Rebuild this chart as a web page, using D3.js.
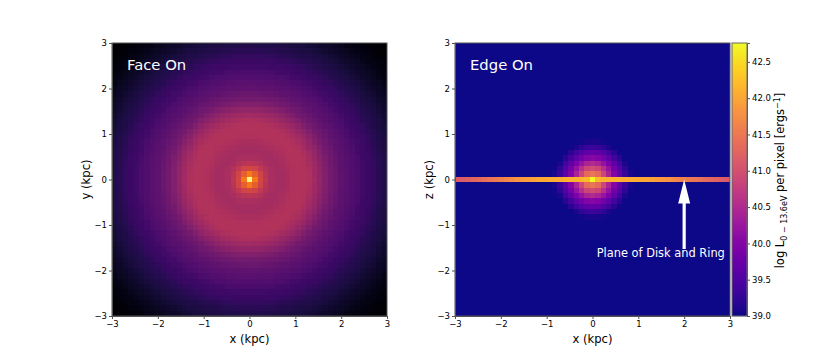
<!DOCTYPE html>
<html>
<head>
<meta charset="utf-8">
<script src="https://cdn.jsdelivr.net/npm/d3@7"></script>
<style>
    body { margin: 0; background: #fff; }
    text { font-family: "DejaVu Sans", sans-serif; }
    .tick text { font-size: 8.5px; fill: #000; }
    .tick line, .domain { stroke: #555; }
</style>
</head>
<body>
<div id="chart"></div>
<script>
// tick values and panel text
let axisTicks = [-3, -2, -1, 0, 1, 2, 3];
let colorbarTicks = [39.0, 39.5, 40.0, 40.5, 41.0, 41.5, 42.0, 42.5];
let colorbarRange = [39.0, 42.76];
let faceOnRange = [38.0, 43.0];
let panelNames = ["Face On", "Edge On"];
let yLabels = ["y (kpc)", "z (kpc)"];

// log L per pixel. The grid is 51 x 51 and symmetric, so only one
// octant is kept: row = larger of |col|,|row| from the center, entry = smaller of the two
let faceOnLogL = [
    [42.85],
    [41.55, 41.2],
    [40.85, 40.78, 40.55],
    [40.5, 40.48, 40.38, 40.28],
    [40.3, 40.29, 40.25, 40.22, 40.2],
    [40.22, 40.22, 40.2, 40.2, 40.24, 40.3],
    [40.2, 40.2, 40.23, 40.27, 40.3, 40.33, 40.36],
    [40.28, 40.28, 40.3, 40.32, 40.35, 40.37, 40.38, 40.38],
    [40.35, 40.35, 40.36, 40.37, 40.38, 40.38, 40.38, 40.34, 40.27],
    [40.38, 40.38, 40.38, 40.38, 40.38, 40.37, 40.33, 40.25, 40.16, 40.05],
    [40.38, 40.38, 40.37, 40.36, 40.33, 40.29, 40.22, 40.13, 40.04, 39.92, 39.77],
    [40.32, 40.31, 40.29, 40.25, 40.2, 40.15, 40.07, 39.99, 39.88, 39.76, 39.63, 39.54],
    [40.17, 40.16, 40.14, 40.11, 40.06, 40.0, 39.92, 39.83, 39.72, 39.6, 39.54, 39.46, 39.35],
    [40.0, 39.99, 39.96, 39.93, 39.88, 39.82, 39.74, 39.65, 39.57, 39.52, 39.44, 39.35, 39.3, 39.25],
    [39.8, 39.79, 39.77, 39.74, 39.69, 39.63, 39.57, 39.53, 39.48, 39.41, 39.34, 39.29, 39.25, 39.19, 39.14],
    [39.6, 39.6, 39.59, 39.57, 39.55, 39.52, 39.47, 39.42, 39.35, 39.31, 39.28, 39.23, 39.18, 39.14, 39.05, 39.0],
    [39.5, 39.5, 39.48, 39.46, 39.43, 39.39, 39.34, 39.31, 39.29, 39.25, 39.21, 39.17, 39.13, 39.03, 38.98, 38.93, 38.88],
    [39.35, 39.35, 39.34, 39.33, 39.31, 39.3, 39.28, 39.25, 39.22, 39.18, 39.15, 39.11, 39.02, 38.97, 38.93, 38.88, 38.82, 38.74],
    [39.28, 39.28, 39.27, 39.26, 39.25, 39.23, 39.2, 39.18, 39.15, 39.12, 39.04, 38.99, 38.95, 38.92, 38.87, 38.82, 38.74, 38.68, 38.63],
    [39.2, 39.2, 39.19, 39.18, 39.17, 39.15, 39.14, 39.11, 39.03, 39.0, 38.97, 38.93, 38.9, 38.85, 38.78, 38.72, 38.67, 38.62, 38.57, 38.51],
    [39.13, 39.13, 39.12, 39.11, 39.1, 39.03, 39.01, 38.99, 38.96, 38.93, 38.9, 38.86, 38.82, 38.75, 38.7, 38.65, 38.61, 38.56, 38.51, 38.46, 38.41],
    [39.0, 39.0, 38.99, 38.99, 38.97, 38.96, 38.94, 38.92, 38.9, 38.86, 38.83, 38.76, 38.71, 38.67, 38.63, 38.59, 38.55, 38.5, 38.45, 38.41, 38.35, 38.3],
    [38.93, 38.93, 38.92, 38.92, 38.9, 38.89, 38.87, 38.84, 38.82, 38.76, 38.72, 38.68, 38.65, 38.61, 38.57, 38.53, 38.49, 38.44, 38.4, 38.35, 38.3, 38.25, 38.19],
    [38.85, 38.85, 38.84, 38.83, 38.82, 38.78, 38.75, 38.72, 38.69, 38.67, 38.64, 38.62, 38.58, 38.55, 38.51, 38.47, 38.43, 38.39, 38.33, 38.29, 38.24, 38.19, 38.16, 38.12],
    [38.74, 38.74, 38.73, 38.72, 38.7, 38.68, 38.66, 38.65, 38.63, 38.6, 38.58, 38.55, 38.52, 38.48, 38.44, 38.41, 38.37, 38.32, 38.28, 38.23, 38.18, 38.15, 38.12, 38.09, 38.05],
    [38.65, 38.65, 38.64, 38.64, 38.63, 38.62, 38.6, 38.58, 38.56, 38.53, 38.51, 38.48, 38.45, 38.41, 38.38, 38.34, 38.3, 38.26, 38.21, 38.18, 38.15, 38.12, 38.09, 38.05, 38.03, 38.01]
];

// edge on: the plane row, from the center out to x = 3
let planeLogL = [42.75, 42.2, 42.15, 42.12, 42.1, 42.1, 42.08, 42.05, 42.05, 42.02, 42.0, 41.95, 41.9,
    41.85, 41.8, 41.72, 41.65, 41.58, 41.5, 41.45, 41.4, 41.33, 41.28, 41.22, 41.17, 41.12];

// edge on: the bulge, same octant layout as above, anything outside it is the background
let bulgeLogL = [
    [42.75],
    [41.48, 41.33],
    [40.96, 40.88, 40.58],
    [40.5, 40.42, 40.2, 39.93],
    [40.02, 39.98, 39.83, 39.64, 39.38],
    [39.68, 39.65, 39.53, 39.37, 39.18, 39.02],
    [39.33, 39.3, 39.22, 39.1, 39.02],
    [39.08, 39.07, 39.04, 39.01]
];
let backgroundLogL = 39.0;

// annotation, in data units
let arrowTip = [2, 0];
let arrowTail = [2, -1.53];
let arrowLabel = "Plane of Disk and Ring";
let arrowLabelPos = [1.49, -1.52];

let margin = {top: 43, bottom: 40};
let width = 830, height = 356;
let plotW = 275, plotH = 273;
let panelLeft = [112, 455];
let cellCount = 51;
let half = (cellCount - 1) / 2;
let cellSize = 6 / cellCount;
let indices = d3.range(-half, half + 1);

let svg = d3.select("#chart").append("svg")
    .attr("width", width)
    .attr("height", height)
    .style("display", "block");

let colorFace = d3.scaleSequential(d3.interpolateInferno).domain(faceOnRange);
let colorEdge = d3.scaleSequential(d3.interpolatePlasma).domain(colorbarRange);

function faceOnValue(col, row) {
    let a = Math.abs(col), b = Math.abs(row);
    return faceOnLogL[Math.max(a, b)][Math.min(a, b)];
}

function edgeOnValue(col, row) {
    if (row === 0) return planeLogL[Math.abs(col)];
    let a = Math.abs(col), b = Math.abs(row);
    let bulgeRow = bulgeLogL[Math.max(a, b)];
    if (!bulgeRow || bulgeRow[Math.min(a, b)] === undefined) return backgroundLogL;
    return bulgeRow[Math.min(a, b)];
}

function drawPanel(idx, color, valueAt) {
    let left = panelLeft[idx];
    let x = d3.scaleLinear().domain([-3, 3]).range([0, plotW]);
    let y = d3.scaleLinear().domain([-3, 3]).range([plotH, 0]);

    let g = svg.append("g").attr("transform", "translate(" + left + "," + margin.top + ")");

    let cells = [];
    indices.forEach(function(row) {
        indices.forEach(function(col) {
            cells.push({col: col, row: row, value: valueAt(col, row)});
        });
    });

    g.append("g").selectAll("rect")
        .data(cells)
        .enter().append("rect")
        .attr("x", d => x((d.col - 0.5) * cellSize))
        .attr("y", d => y((d.row + 0.5) * cellSize))
        .attr("width", x(cellSize) - x(0))
        .attr("height", y(0) - y(cellSize))
        .attr("fill", d => color(d.value))
        .attr("shape-rendering", "crispEdges");

    g.append("g")
        .attr("transform", "translate(0," + plotH + ")")
        .call(d3.axisBottom(x).tickValues(axisTicks).tickSize(3).tickPadding(2).tickFormat(d3.format("d")));
    g.append("g")
        .call(d3.axisLeft(y).tickValues(axisTicks).tickSize(3).tickPadding(2).tickFormat(d3.format("d")));

    g.append("rect")
        .attr("width", plotW)
        .attr("height", plotH)
        .attr("fill", "none")
        .attr("stroke", "#555");

    g.append("text")
        .attr("x", 15)
        .attr("y", 27)
        .attr("fill", "#fff")
        .style("font-size", "14.8px")
        .text(panelNames[idx]);

    g.append("text")
        .attr("x", plotW / 2)
        .attr("y", plotH + 26.5)
        .attr("text-anchor", "middle")
        .style("font-size", "11.6px")
        .text("x (kpc)");

    g.append("text")
        .attr("transform", "translate(-22," + (plotH / 2) + ") rotate(-90)")
        .attr("text-anchor", "middle")
        .style("font-size", "11.6px")
        .text(yLabels[idx]);

    return {g: g, x: x, y: y};
}

drawPanel(0, colorFace, faceOnValue);
let edge = drawPanel(1, colorEdge, edgeOnValue);

// arrow and its label
let tipX = edge.x(arrowTip[0]), tipY = edge.y(arrowTip[1]);
let tailY = edge.y(arrowTail[1]);
edge.g.append("path")
    .attr("d", d3.line()([
        [tipX - 1.6, tailY], [tipX - 1.6, tipY + 24], [tipX - 6, tipY + 24], [tipX, tipY],
        [tipX + 6, tipY + 24], [tipX + 1.6, tipY + 24], [tipX + 1.6, tailY]
    ]) + "Z")
    .attr("fill", "#fff");

edge.g.append("text")
    .attr("x", edge.x(arrowLabelPos[0]))
    .attr("y", edge.y(arrowLabelPos[1]))
    .attr("text-anchor", "middle")
    .attr("dominant-baseline", "hanging")
    .attr("fill", "#fff")
    .style("font-size", "11.4px")
    .text(arrowLabel);

// colorbar
let cbX = 732, cbW = 15;
let cbScale = d3.scaleLinear().domain(colorbarRange).range([plotH, 0]);
let cb = svg.append("g").attr("transform", "translate(" + cbX + "," + margin.top + ")");
let cbSteps = d3.range(0, plotH);

cb.selectAll("rect.step")
    .data(cbSteps)
    .enter().append("rect")
    .attr("class", "step")
    .attr("x", 0)
    .attr("y", d => d)
    .attr("width", cbW)
    .attr("height", 1.2)
    .attr("fill", d => colorEdge(cbScale.invert(d + 0.5)));

cb.append("g")
    .attr("transform", "translate(" + cbW + ",0)")
    .call(d3.axisRight(cbScale).tickValues(colorbarTicks).tickSize(3).tickPadding(2).tickFormat(d3.format(".1f")));

cb.append("rect")
    .attr("width", cbW)
    .attr("height", plotH)
    .attr("fill", "none")
    .attr("stroke", "#666");

let cbLabel = cb.append("text")
    .attr("transform", "translate(52," + (plotH / 2 + 1) + ") rotate(-90)")
    .attr("text-anchor", "middle")
    .style("font-size", "11.5px");
cbLabel.append("tspan").text("log L");
cbLabel.append("tspan").attr("dy", 2.5).style("font-size", "8px").text("0 \u2212 13.6eV");
cbLabel.append("tspan").attr("dy", -2.5).text(" per pixel [ergs");
cbLabel.append("tspan").attr("dy", -4).style("font-size", "8px").text("\u22121");
cbLabel.append("tspan").attr("dy", 4).text("]");
</script>
</body>
</html>
